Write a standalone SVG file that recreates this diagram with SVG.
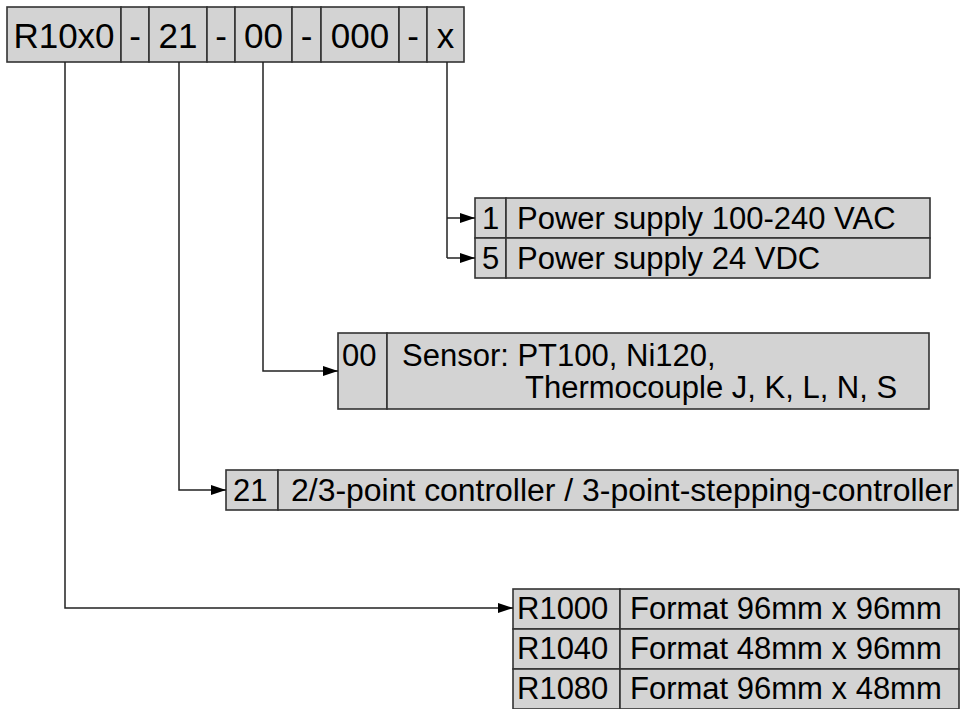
<svg xmlns="http://www.w3.org/2000/svg" width="961" height="709" viewBox="0 0 961 709">
<defs>
<style>
.cell{fill:#d3d3d3;stroke:#333;stroke-width:1.6}
.t{font-family:"Liberation Sans",Arial,sans-serif;fill:#000}
.big{font-size:35px}
.n{font-size:31px}
.c{text-anchor:middle}
.conn path{fill:none;stroke:#222;stroke-width:1.5}
</style>
<marker id="ah" markerUnits="userSpaceOnUse" markerWidth="16" markerHeight="12" refX="15" refY="6" orient="auto">
<path d="M0,1 L15,6 L0,11 Z" fill="#000"/>
</marker>
</defs>
<rect width="961" height="709" fill="#fff"/>

<g id="code">
<rect class="cell" x="7" y="7" width="114" height="55"/>
<rect class="cell" x="121" y="7" width="28" height="55"/>
<rect class="cell" x="149" y="7" width="58" height="55"/>
<rect class="cell" x="207" y="7" width="28" height="55"/>
<rect class="cell" x="235" y="7" width="57" height="55"/>
<rect class="cell" x="292" y="7" width="29" height="55"/>
<rect class="cell" x="321" y="7" width="78" height="55"/>
<rect class="cell" x="399" y="7" width="28" height="55"/>
<rect class="cell" x="427" y="7" width="37" height="55"/>
<text class="t big c" x="64" y="48">R10x0</text>
<text class="t big c" x="135" y="48">-</text>
<text class="t big c" x="178" y="48">21</text>
<text class="t big c" x="221" y="48">-</text>
<text class="t big c" x="263.5" y="48">00</text>
<text class="t big c" x="306.5" y="48">-</text>
<text class="t big c" x="360" y="48">000</text>
<text class="t big c" x="413" y="48">-</text>
<text class="t big c" x="445.5" y="48">x</text>
</g>

<g id="power">
<rect class="cell" x="475" y="198" width="31" height="40"/>
<rect class="cell" x="506" y="198" width="424" height="40"/>
<rect class="cell" x="475" y="238" width="31" height="40"/>
<rect class="cell" x="506" y="238" width="424" height="40"/>
<text class="t n" x="482" y="229">1</text>
<text class="t n" x="517" y="229">Power supply 100-240 VAC</text>
<text class="t n" x="482" y="269">5</text>
<text class="t n" x="517" y="269">Power supply 24 VDC</text>
</g>

<g id="sensor">
<rect class="cell" x="338" y="333" width="49" height="76"/>
<rect class="cell" x="387" y="333" width="542" height="76"/>
<text class="t n" x="342" y="366">00</text>
<text class="t n" x="402" y="366">Sensor: PT100, Ni120,</text>
<text class="t n" x="525" y="398">Thermocouple J, K, L, N, S</text>
</g>

<g id="controller">
<rect class="cell" x="226" y="470" width="52" height="40"/>
<rect class="cell" x="278" y="470" width="680" height="40"/>
<text class="t n" x="233" y="501">21</text>
<text class="t n" x="291" y="501" textLength="662" lengthAdjust="spacingAndGlyphs">2/3-point controller / 3-point-stepping-controller</text>
</g>

<g id="format">
<rect class="cell" x="513" y="589" width="107" height="40"/>
<rect class="cell" x="620" y="589" width="339" height="40"/>
<rect class="cell" x="513" y="629" width="107" height="40"/>
<rect class="cell" x="620" y="629" width="339" height="40"/>
<rect class="cell" x="513" y="669" width="107" height="40"/>
<rect class="cell" x="620" y="669" width="339" height="40"/>
<text class="t n" x="517" y="619">R1000</text>
<text class="t n" x="630" y="619">Format 96mm x 96mm</text>
<text class="t n" x="517" y="659">R1040</text>
<text class="t n" x="630" y="659">Format 48mm x 96mm</text>
<text class="t n" x="517" y="699">R1080</text>
<text class="t n" x="630" y="699">Format 96mm x 48mm</text>
</g>

<g id="connectors" class="conn">
<path d="M447,62 V258"/>
<path d="M447,218 H475" marker-end="url(#ah)"/>
<path d="M447,258 H475" marker-end="url(#ah)"/>
<path d="M263,62 V371 H338" marker-end="url(#ah)"/>
<path d="M179,62 V490 H226" marker-end="url(#ah)"/>
<path d="M65,62 V608 H513" marker-end="url(#ah)"/>
</g>
</svg>
